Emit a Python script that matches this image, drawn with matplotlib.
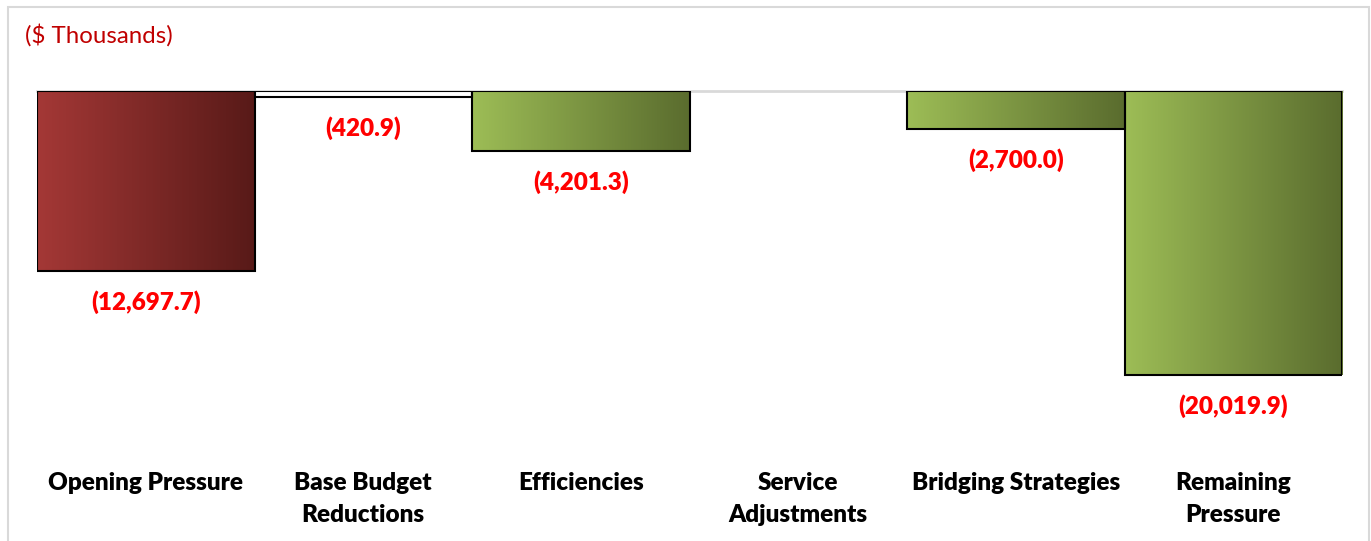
import matplotlib
matplotlib.use("Agg")
import matplotlib.pyplot as plt
import matplotlib.transforms as mtransforms
from matplotlib.colors import LinearSegmentedColormap
from matplotlib.patches import Rectangle
import numpy as np

categories = ["Opening Pressure", "Base Budget\nReductions", "Efficiencies",
              "Service\nAdjustments", "Bridging Strategies", "Remaining\nPressure"]
values = [-12697.7, -420.9, -4201.3, 0.0, -2700.0, -20019.9]
labels = ["(12,697.7)", "(420.9)", "(4,201.3)", "", "(2,700.0)", "(20,019.9)"]
fill_kind = ["red", "white", "green", "none", "green", "green"]

W, H = 1371, 541
fig = plt.figure(figsize=(W / 100, H / 100), dpi=100)
plt.rcParams['font.family'] = ['Lato', 'DejaVu Sans']

# outer chart frame
fig.patches.append(Rectangle((8 / W, -0.05), (1369 - 8) / W, 1.05 - 7 / H,
                             transform=fig.transFigure, fill=False,
                             edgecolor="#d9d9d9", linewidth=1.5))

ax = fig.add_axes([37 / W, 1 - 445 / H, 1305 / W, (445 - 91) / H])
ax.set_xlim(-0.5, len(categories) - 0.5)
ymin = min(values) * 1.2465
ax.set_ylim(ymin, 0)
for s in ["left", "right", "bottom"]:
    ax.spines[s].set_visible(False)
ax.spines["top"].set_color("#d9d9d9")
ax.spines["top"].set_linewidth(2)
ax.spines["top"].set_zorder(1)
ax.set_xticks([])
ax.set_yticks([])
ax.patch.set_alpha(0)

cmaps = {
    "red": LinearSegmentedColormap.from_list("r", ["#a43836", "#581a18"]),
    "green": LinearSegmentedColormap.from_list("g", ["#9dbd56", "#5a6c2e"]),
}
grad = np.linspace(0, 1, 256).reshape(1, -1)

bars = ax.bar(range(len(categories)), values, width=1.0, color="white",
              edgecolor="black", linewidth=1.5, zorder=2)
for b, kind, v in zip(bars, fill_kind, values):
    if kind == "none" or v == 0:
        b.set_visible(False)
        continue
    if kind in cmaps:
        b.set_facecolor("none")
        x0 = b.get_x()
        x1 = x0 + b.get_width()
        im = ax.imshow(grad, cmap=cmaps[kind], aspect="auto",
                       extent=[x0, x1, v, 0], zorder=1.5, interpolation="bilinear")
        im.set_clip_path(b)

ax.set_xlim(-0.5, len(categories) - 0.5)
ax.set_ylim(ymin, 0)

for i, (v, lab) in enumerate(zip(values, labels)):
    if lab:
        ax.annotate(lab, (i, v), xytext=(0, -22.5), textcoords="offset points",
                    ha="center", va="center", color="#ff0000",
                    fontsize=17.5, fontweight="heavy")

trans = mtransforms.blended_transform_factory(ax.transData, fig.transFigure)
for i, c in enumerate(categories):
    fig.text(i, 1 - 472 / H, c, transform=trans, ha="center", va="top",
             fontsize=17.5, fontweight="heavy", color="black", linespacing=1.56)

fig.text(25 / W, 1 - 35 / H, "($ Thousands)", ha="left", va="center",
         fontsize=17.3, color="#c00000")

fig.savefig("out.png", dpi=100)
